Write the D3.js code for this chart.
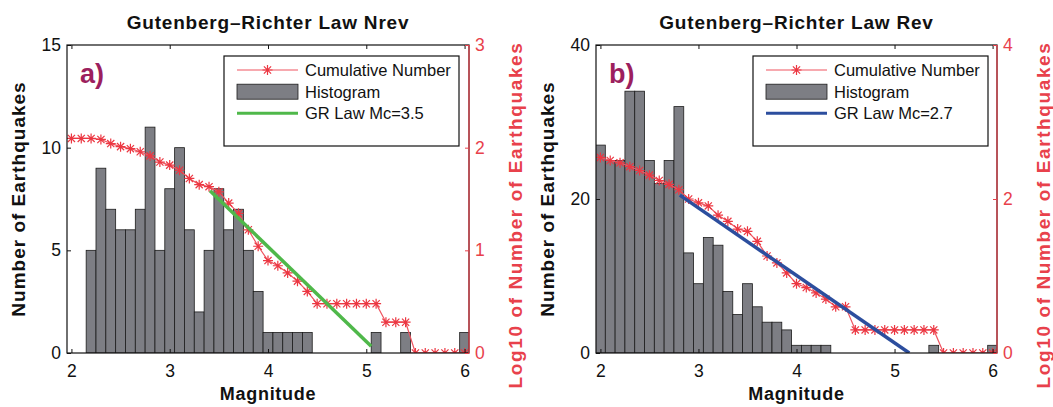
<!DOCTYPE html>
<html>
<head>
<meta charset="utf-8">
<script src="https://cdn.jsdelivr.net/npm/d3@7"></script>
<style>
body { margin: 0; background: #fff; }
svg text { font-family: "Liberation Sans", Arial, Helvetica, sans-serif; }
</style>
</head>
<body>
<svg id="chart" width="1053" height="407"></svg>
<script>
// magnitude bins (0.1 wide)
var magBins = [2.0, 2.1, 2.2, 2.3, 2.4, 2.5, 2.6, 2.7, 2.8, 2.9,
               3.0, 3.1, 3.2, 3.3, 3.4, 3.5, 3.6, 3.7, 3.8, 3.9,
               4.0, 4.1, 4.2, 4.3, 4.4, 4.5, 4.6, 4.7, 4.8, 4.9,
               5.0, 5.1, 5.2, 5.3, 5.4, 5.5, 5.6, 5.7, 5.8, 5.9,
               6.0];

// panel a) Nrev
var histNrev = [0, 0, 5, 9, 7, 6, 6, 7, 11, 5,
                8, 10, 6, 2, 5, 8, 6, 7, 5, 3,
                1, 1, 1, 1, 1, 0, 0, 0, 0, 0,
                0, 1, 0, 0, 1, 0, 0, 0, 0, 0,
                1];
var cumNrev = [2.09, 2.09, 2.09, 2.08, 2.04, 2.01, 1.99, 1.96, 1.92, 1.86,
               1.83, 1.78, 1.70, 1.64, 1.62, 1.57, 1.46, 1.36, 1.20, 1.04,
               0.90, 0.85, 0.78, 0.70, 0.60, 0.48, 0.48, 0.48, 0.48, 0.48,
               0.48, 0.48, 0.30, 0.30, 0.30, 0, 0, 0, 0, 0,
               0];
var grNrevMag = [3.41, 5.05];
var grNrevLog = [1.58, 0.065];

// panel b) Rev
var histRev = [27, 25, 25, 34, 34, 25, 22, 25, 32, 13,
               9, 15, 14, 8, 5, 9, 6, 4, 4, 3,
               1, 1, 1, 1, 0, 0, 0, 0, 0, 0,
               0, 0, 0, 0, 1, 0, 0, 0, 0, 0,
               1];
var cumRev = [2.54, 2.50, 2.47, 2.42, 2.37, 2.31, 2.24, 2.19, 2.12, 2.00,
              1.95, 1.91, 1.79, 1.71, 1.61, 1.58, 1.45, 1.26, 1.17, 1.04,
              0.90, 0.85, 0.78, 0.70, 0.60, 0.60, 0.30, 0.30, 0.30, 0.30,
              0.30, 0.30, 0.30, 0.30, 0.30, 0, 0, 0, 0, 0,
              0];
var grRevMag = [2.81, 5.15];
var grRevLog = [2.05, 0.0];

// tick labels
var magTicks = [2, 3, 4, 5, 6];
var nrevCountTicks = [0, 5, 10, 15];
var nrevLogTicks = [0, 1, 2, 3];
var revCountTicks = [0, 20, 40];
var revLogTicks = [0, 2, 4];

var svg = d3.select("#chart");
var TOP = 45, BOTTOM = 353;
var RED = "#e8414b";

var panels = [
    { key: "a", title: "Gutenberg\u2013Richter Law Nrev", label: "a)", left: 67, right: 469,
      hist: histNrev, cum: cumNrev, grMag: grNrevMag, grLog: grNrevLog,
      grName: "GR Law Mc=3.5", grColor: "#4fb84a",
      countTicks: nrevCountTicks, logTicks: nrevLogTicks },
    { key: "b", title: "Gutenberg\u2013Richter Law Rev", label: "b)", left: 596, right: 997,
      hist: histRev, cum: cumRev, grMag: grRevMag, grLog: grRevLog,
      grName: "GR Law Mc=2.7", grColor: "#2c4e9e",
      countTicks: revCountTicks, logTicks: revLogTicks }
];

// MATLAB style '*' marker
var starPath = "M-5,0H5M0,-5V5M-3.6,-3.6L3.6,3.6M-3.6,3.6L3.6,-3.6";

panels.forEach(function (p) {
    var g = svg.append("g");
    var x = d3.scaleLinear().domain([1.955, 6.045]).range([p.left, p.right]);
    var yL = d3.scaleLinear().domain([0, d3.max(p.countTicks)]).range([BOTTOM, TOP]);
    var yR = d3.scaleLinear().domain([0, d3.max(p.logTicks)]).range([BOTTOM, TOP]);

    g.append("clipPath").attr("id", "clip-" + p.key)
        .append("rect").attr("x", p.left).attr("y", TOP)
        .attr("width", p.right - p.left).attr("height", BOTTOM - TOP);

    var plot = g.append("g").attr("clip-path", "url(#clip-" + p.key + ")");

    // histogram bars
    var bars = magBins.map(function (m, i) { return { m: m, n: p.hist[i] }; })
        .filter(function (d) { return d.n > 0; });
    plot.selectAll("rect.bar").data(bars).enter().append("rect")
        .attr("class", "bar")
        .attr("x", function (d) { return x(d.m - 0.05); })
        .attr("width", function (d) { return x(d.m + 0.05) - x(d.m - 0.05); })
        .attr("y", function (d) { return yL(d.n); })
        .attr("height", function (d) { return yL(0) - yL(d.n); })
        .attr("fill", "#7d7e84")
        .attr("stroke", "#1c1c1c")
        .attr("stroke-width", 0.8);

    // cumulative number (log10)
    var cum = magBins.map(function (m, i) { return { m: m, v: p.cum[i] }; });
    var line = d3.line().x(function (d) { return x(d.m); }).y(function (d) { return yR(d.v); });
    plot.append("path").datum(cum)
        .attr("d", line)
        .attr("fill", "none")
        .attr("stroke", "#ef5560")
        .attr("stroke-width", 1.2);
    plot.selectAll("path.star").data(cum).enter().append("path")
        .attr("class", "star")
        .attr("d", starPath)
        .attr("transform", function (d) { return "translate(" + x(d.m) + "," + yR(d.v) + ")"; })
        .attr("fill", "none")
        .attr("stroke", "#ec3742")
        .attr("stroke-width", 1.2);

    // GR law fit
    var gr = p.grMag.map(function (m, i) { return { m: m, v: p.grLog[i] }; });
    plot.append("path").datum(gr)
        .attr("d", line)
        .attr("fill", "none")
        .attr("stroke", p.grColor)
        .attr("stroke-width", 3.5);

    // box
    g.append("rect").attr("x", p.left).attr("y", TOP)
        .attr("width", p.right - p.left).attr("height", BOTTOM - TOP)
        .attr("fill", "none").attr("stroke", "#111").attr("stroke-width", 1.2);
    g.append("line").attr("x1", p.right).attr("x2", p.right).attr("y1", TOP).attr("y2", BOTTOM)
        .attr("stroke", RED).attr("stroke-width", 1.2);

    // axes (ticks point inward like MATLAB)
    g.append("g").attr("transform", "translate(0," + BOTTOM + ")")
        .call(d3.axisBottom(x).tickValues(magTicks).tickFormat(d3.format("d"))
            .tickSizeInner(-4).tickSizeOuter(0).tickPadding(12));
    g.append("g").attr("transform", "translate(0," + TOP + ")")
        .call(d3.axisTop(x).tickValues(magTicks).tickFormat("")
            .tickSizeInner(-4).tickSizeOuter(0));
    g.append("g").attr("transform", "translate(" + p.left + ",0)")
        .call(d3.axisLeft(yL).tickValues(p.countTicks).tickFormat(d3.format("d"))
            .tickSizeInner(-4).tickSizeOuter(0).tickPadding(6));
    var yAxisR = g.append("g").attr("transform", "translate(" + p.right + ",0)")
        .call(d3.axisRight(yR).tickValues(p.logTicks).tickFormat(d3.format("d"))
            .tickSizeInner(-4).tickSizeOuter(0).tickPadding(6));

    g.selectAll(".domain").remove();
    g.selectAll(".tick line").attr("stroke", "#111");
    yAxisR.selectAll(".tick line").attr("stroke", RED);
    g.selectAll(".tick text").attr("font-size", 17.5).attr("fill", "#111")
        .style("font-family", "'Liberation Sans', Arial, sans-serif");
    yAxisR.selectAll(".tick text").attr("fill", RED);

    var cx = (p.left + p.right) / 2;

    // title and axis labels
    g.append("text").text(p.title)
        .attr("x", cx).attr("y", 29)
        .attr("text-anchor", "middle")
        .attr("font-size", 19).attr("font-weight", "bold")
        .attr("letter-spacing", 0.8).attr("fill", "#111");
    g.append("text").text("Magnitude")
        .attr("x", cx).attr("y", 400)
        .attr("text-anchor", "middle")
        .attr("font-size", 18).attr("font-weight", "bold")
        .attr("letter-spacing", 0.7).attr("fill", "#111");
    g.append("text").text("Number of Earthquakes")
        .attr("transform", "translate(" + (p.left - 42) + "," + ((TOP + BOTTOM) / 2) + ") rotate(-90)")
        .attr("text-anchor", "middle")
        .attr("font-size", 19).attr("font-weight", "bold")
        .attr("letter-spacing", 1).attr("fill", "#111");
    g.append("text").text("Log10 of Number of Earthquakes")
        .attr("transform", "translate(" + (p.right + 53) + "," + ((TOP + BOTTOM) / 2 + 16) + ") rotate(-90)")
        .attr("text-anchor", "middle")
        .attr("font-size", 19).attr("font-weight", "bold")
        .attr("letter-spacing", 1.6).attr("fill", RED);

    // panel letter
    g.append("text").text(p.label)
        .attr("x", p.left + 13).attr("y", 83)
        .attr("font-size", 27).attr("font-weight", "bold")
        .attr("fill", "#9c1f5e");

    // legend
    var lx = p.left + 157;
    var lg = g.append("g");
    lg.append("rect").attr("x", lx).attr("y", 56).attr("width", 235).attr("height", 90)
        .attr("fill", "#fff").attr("stroke", "#111").attr("stroke-width", 1.2);
    var rows = [70, 91.7, 113.3];
    lg.append("line").attr("x1", lx + 13).attr("x2", lx + 74).attr("y1", rows[0]).attr("y2", rows[0])
        .attr("stroke", "#ef5560").attr("stroke-width", 1.2);
    lg.append("path").attr("d", starPath)
        .attr("transform", "translate(" + (lx + 43.5) + "," + rows[0] + ")")
        .attr("fill", "none").attr("stroke", "#ec3742").attr("stroke-width", 1.2);
    lg.append("rect").attr("x", lx + 13).attr("y", rows[1] - 7.5).attr("width", 61).attr("height", 15)
        .attr("fill", "#7d7e84").attr("stroke", "#1c1c1c").attr("stroke-width", 0.8);
    lg.append("line").attr("x1", lx + 13).attr("x2", lx + 74).attr("y1", rows[2]).attr("y2", rows[2])
        .attr("stroke", p.grColor).attr("stroke-width", 3);
    ["Cumulative Number", "Histogram", p.grName].forEach(function (t, i) {
        lg.append("text").text(t)
            .attr("x", lx + 81).attr("y", rows[i] + 6)
            .attr("font-size", 16.5).attr("fill", "#111");
    });
});
</script>
</body>
</html>
